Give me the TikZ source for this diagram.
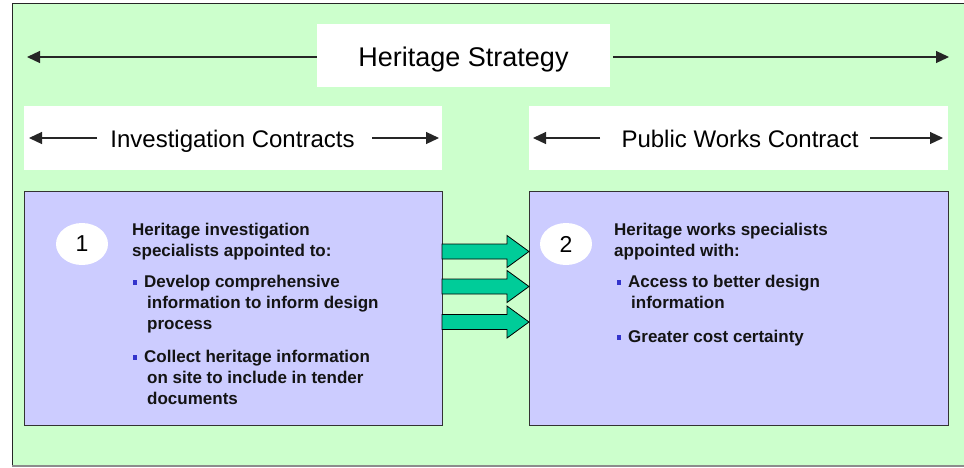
\documentclass[tikz,border=0pt]{standalone}
\usepackage{fontspec}
\setmainfont{Liberation Sans}
\usetikzlibrary{arrows.meta,shapes.geometric}
\definecolor{bggreen}{HTML}{CCFFCC}
\definecolor{panelblue}{HTML}{CCCCFF}
\definecolor{flowgreen}{HTML}{00CC99}
\definecolor{bulletblue}{HTML}{3333CC}
\tikzset{
  banner/.style={fill=white, draw=none, inner sep=0pt},
  panel/.style={fill=panelblue, draw=black!80, line width=1pt, inner sep=0pt},
  badge/.style={ellipse, fill=white, draw=none, minimum width=52pt, minimum height=42pt,
    inner sep=0pt, font=\fontsize{23}{23}\selectfont},
  span/.style={draw=black!85, line width=1.2pt, -{Triangle[length=13pt,width=12pt]}},
  flow/.style={fill=flowgreen, draw=black, line width=0.8pt, line join=miter},
  bodytext/.style={anchor=base west, inner sep=0pt,
    font=\fontsize{17}{21}\selectfont\bfseries, text=black!92},
  bulletsq/.style={fill=bulletblue, draw=none, inner sep=0pt,
    minimum width=4pt, minimum height=5pt},
  heading/.style={anchor=base, inner sep=0pt, text=black},
}
\begin{document}
\begin{tikzpicture}[x=1pt, y=-1pt]
  \useasboundingbox (0,0) rectangle (964,467);
  \fill[white] (0,0) rectangle (964,467);
  % background frame
  \fill[bggreen] (12,3) rectangle (966,466);
  \draw[black!85, line width=1pt] (12,466) -- (12,3) -- (966,3);
  \draw[black!45, line width=1.2pt] (12,466) -- (966,466);

  % top banner
  \node[banner, minimum width=293pt, minimum height=63pt] (hs) at (463.5,55.5) {};
  \node[heading, font=\fontsize{27}{27}\selectfont] (hstext) at (463.5,66) {Heritage Strategy};
  \coordinate (hsL) at (27,57);
  \coordinate (hsR) at (949,57);
  \draw[span] (hs.west |- hsL) -- (hsL);
  \coordinate (hsRs) at (613,57);
  \draw[span] (hsRs) -- (hsR);

  % contract banners
  \node[banner, minimum width=418pt, minimum height=64pt] (ic) at (233,138) {};
  \node[heading, font=\fontsize{24}{24}\selectfont] (ictext) at (232.5,147) {Investigation Contracts};
  \coordinate (icLs) at (97,138);
  \coordinate (icL) at (29,138);
  \coordinate (icRs) at (372,138);
  \coordinate (icR) at (439,138);
  \draw[span] (icLs) -- (icL);
  \draw[span] (icRs) -- (icR);

  \node[banner, minimum width=419pt, minimum height=64pt] (pw) at (738.5,138) {};
  \node[heading, font=\fontsize{24}{24}\selectfont] (pwtext) at (740,147) {Public Works Contract};
  \coordinate (pwLs) at (600,138);
  \coordinate (pwL) at (533,138);
  \coordinate (pwRs) at (870,138);
  \coordinate (pwR) at (943,138);
  \draw[span] (pwLs) -- (pwL);
  \draw[span] (pwRs) -- (pwR);

  % panels
  \node[panel, minimum width=418pt, minimum height=234pt] (p1) at (233,308) {};
  \node[panel, minimum width=419pt, minimum height=234pt] (p2) at (738.5,308) {};

  % flow arrows between the panels
  \foreach \c in {251.5,286.5,322}{
    \draw[flow] (442,{\c-7.5}) -- (507,{\c-7.5}) -- (507,{\c-16}) -- (529,\c)
      -- (507,{\c+16}) -- (507,{\c+7.5}) -- (442,{\c+7.5}) -- cycle;
  }

  % step badges
  \node[badge] (n1) at (82,244) {1};
  \node[badge] (n2) at (566,244) {2};

  % panel 1 text
  \node[bodytext] (t1) at (132,235)
    {\vtop{\hbox{Heritage investigation}\hbox{specialists appointed to:}}};
  \node[bulletsq] (b11) at (135,282.5) {};
  \node[bodytext] (t11) at (144,287)
    {\vtop{\hbox{Develop comprehensive}\hbox{\hspace{3pt}information to inform design}\hbox{\hspace{3pt}process}}};
  \node[bulletsq] (b12) at (135,357.5) {};
  \node[bodytext] (t12) at (144,362)
    {\vtop{\hbox{Collect heritage information}\hbox{\hspace{3pt}on site to include in tender}\hbox{\hspace{3pt}documents}}};

  % panel 2 text
  \node[bodytext] (t2) at (614,235)
    {\vtop{\hbox{Heritage works specialists}\hbox{appointed with:}}};
  \node[bulletsq] (b21) at (619,282.5) {};
  \node[bodytext] (t21) at (628,287)
    {\vtop{\hbox{Access to better design}\hbox{\hspace{3pt}information}}};
  \node[bulletsq] (b22) at (619,337.5) {};
  \node[bodytext] (t22) at (628,342) {Greater cost certainty};
\end{tikzpicture}
\end{document}
